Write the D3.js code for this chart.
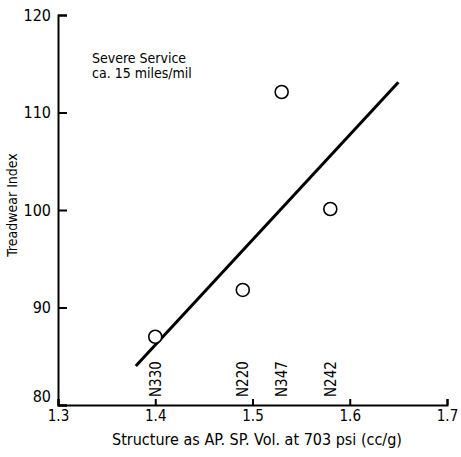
<!DOCTYPE html>
<html>
<head>
<meta charset="utf-8">
<script src="https://cdn.jsdelivr.net/npm/d3@7"></script>
<style>
  body { margin: 0; background: #fff; }
  svg text { font-family: "Liberation Sans Narrow", "DejaVu Sans Condensed", "Arial Narrow", sans-serif; fill: #000; }
</style>
</head>
<body>
<svg id="chart" width="461" height="457"></svg>
<script>
// carbon black grades
const grades = ['N330', 'N220', 'N347', 'N242'];
// structure, AP. SP. Vol. at 703 psi (cc/g)
const structure = [1.40, 1.49, 1.53, 1.58];
// treadwear index
const treadwear = [87.0, 91.8, 112.1, 100.1];
// fitted line end points
const fitX = [1.38, 1.65];
const fitY = [84.0, 113.1];
const xTicks = [1.3, 1.4, 1.5, 1.6, 1.7];
const yTicks = [80, 90, 100, 110, 120];

const svg = d3.select('#chart');
const x = d3.scaleLinear().domain([1.3, 1.7]).range([58, 447]);
const y = d3.scaleLinear().domain([80, 120]).range([405, 15]);

// axes, ticks pointing inward
const xAxis = svg.append('g')
    .attr('transform', `translate(0,${y(80)})`)
    .call(d3.axisTop(x).tickValues(xTicks).tickSize(6).tickFormat(d3.format('.1f')));
xAxis.selectAll('text').attr('y', 5).attr('dy', '0.71em').style('font-size', '15px');

const yAxis = svg.append('g')
    .attr('transform', `translate(${x(1.3)},0)`)
    .call(d3.axisRight(y).tickValues(yTicks).tickSize(9));
yAxis.selectAll('text')
    .attr('x', -7)
    .attr('text-anchor', 'end')
    .style('font-size', '16px')
    .filter(d => d === 80).attr('dy', '-0.2em');

svg.selectAll('.domain').attr('stroke', '#000').attr('stroke-width', 2);
svg.selectAll('.tick line').attr('stroke', '#000').attr('stroke-width', 2);

// axis titles
svg.append('text')
    .attr('x', 257).attr('y', 445)
    .attr('text-anchor', 'middle')
    .style('font-size', '16px')
    .text('Structure as AP. SP. Vol. at 703 psi (cc/g)');

svg.append('text')
    .attr('transform', 'translate(17,205) rotate(-90)')
    .attr('text-anchor', 'middle')
    .style('font-size', '14px')
    .text('Treadwear Index');

// annotation
const note = svg.append('text').attr('x', 92).attr('y', 63).style('font-size', '14px');
note.append('tspan').attr('x', 92).text('Severe Service');
note.append('tspan').attr('x', 92).attr('dy', 15).text('ca. 15 miles/mil');

// fitted line
svg.append('path')
    .datum(fitX.map((d, i) => [d, fitY[i]]))
    .attr('d', d3.line().x(d => x(d[0])).y(d => y(d[1])))
    .attr('fill', 'none')
    .attr('stroke', '#000')
    .attr('stroke-width', 3);

// data points
svg.selectAll('circle')
    .data(grades.map((g, i) => ({ g, sx: structure[i], tw: treadwear[i] })))
    .join('circle')
    .attr('cx', d => x(d.sx))
    .attr('cy', d => y(d.tw))
    .attr('r', 6.5)
    .attr('fill', '#fff')
    .attr('stroke', '#000')
    .attr('stroke-width', 1.6);

// grade labels along the x axis
svg.selectAll('.grade')
    .data(grades.map((g, i) => ({ g, sx: structure[i] })))
    .join('text')
    .attr('class', 'grade')
    .attr('transform', d => `translate(${x(d.sx)},397) rotate(-90)`)
    .attr('dy', '0.35em')
    .style('font-size', '15px')
    .text(d => d.g);
</script>
</body>
</html>
